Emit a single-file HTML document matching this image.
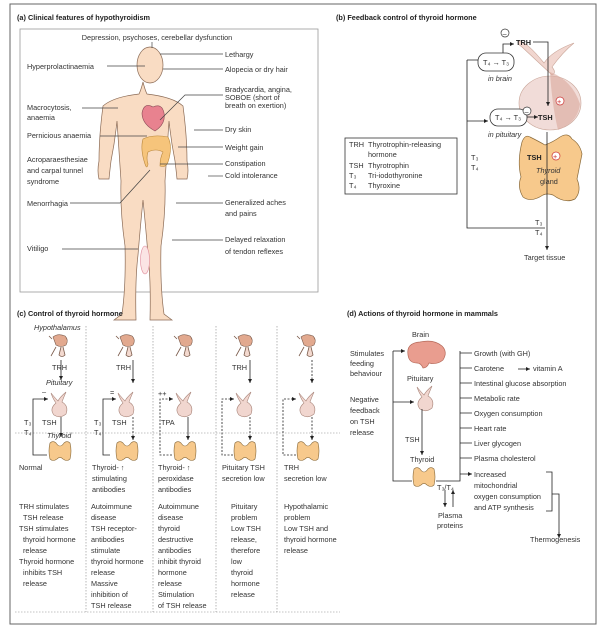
<!DOCTYPE html>
<html><head><meta charset="utf-8"><style>
html,body{margin:0;padding:0;background:#fff;width:600px;height:630px;overflow:hidden}
svg text{font-family:"Liberation Sans",sans-serif;font-size:7.3px;fill:#333}
.b{font-weight:bold;fill:#222}
.i{font-style:italic}
</style></head><body>
<svg width="600" height="630" viewBox="0 0 600 630" xmlns="http://www.w3.org/2000/svg">
<defs>
<marker id="a" markerWidth="6" markerHeight="6" refX="5" refY="3" orient="auto"><path d="M0,0.5 L5,3 L0,5.5z" fill="#222"/></marker>
<g id="hyp"><path d="M-7,-8 q5,-4 12,-1 q4,4 1,9 q-5,3 -10,0z" fill="#e2a98f" stroke="#7a5a4a" stroke-width=".6"/><path d="M-8,-6 l-3,-3 M-4,2 l-5,9 M1,2 l-2,8 q3,3 6,0 l-2,-8" fill="#f3d9cf" stroke="#7a5a4a" stroke-width=".8"/></g>
<g id="pit"><path d="M-9,-10 q4,5 7,8 q2,-4 8,-9 q-3,7 -4,10 q7,4 4,12 q-6,5 -12,1 q-5,-6 2,-12 q-3,-4 -5,-10z" fill="#f1d6cf" stroke="#a9857a" stroke-width=".6"/></g>
<g id="thy"><path d="M-10,-9 q3,-3 6,0 q2,3 4,3 q2,0 4,-3 q3,-3 6,0 q2,8 0,16 q-3,3 -7,0 q-3,-3 -6,0 q-4,3 -7,0 q-2,-8 0,-16z" fill="#f7c98c" stroke="#8a6a3a" stroke-width=".6"/></g>
</defs>
<rect x="10" y="4" width="586" height="620" fill="none" stroke="#666" stroke-width="1"/>

<!-- Panel a -->
<text x="17" y="20" class="b">(a)  Clinical features of hypothyroidism</text>
<rect x="20" y="29" width="298" height="263" fill="none" stroke="#999" stroke-width=".8"/>
<g fill="#f9dcc3" stroke="#8a6a55" stroke-width=".7">
<path d="M143,82 q-2,8 -4,12 q-26,3 -36,12 q-4,30 -4,55 q-2,10 0,18 l10,0 q1,-10 2,-18 q4,-20 6,-40 q2,30 4,60 q-1,30 4,65 q1,40 -3,68 l-8,6 l22,0 q-1,-40 2,-65 q2,-25 5,-55 q3,30 5,55 q3,25 2,65 l22,0 l-8,-6 q-4,-28 -3,-68 q5,-35 4,-65 q2,-30 4,-60 q2,20 6,40 q1,8 2,18 l10,0 q2,-8 0,-18 q0,-25 -4,-55 q-10,-9 -36,-12 q-2,-4 -4,-12z"/>
<ellipse cx="150" cy="65" rx="13" ry="18"/>
</g>
<path d="M153,107 q-9,-5 -11,6 q0,11 13,18 q11,-7 9,-18 q-2,-10 -11,-6z" fill="#e8828f" stroke="#8a4a55" stroke-width=".6"/>
<path d="M145,164 q-5,-15 -2,-25 q10,-5 25,-2 q5,10 0,25 q-2,6 -8,4 q0,-8 3,-14 q-7,-4 -15,0 q-2,6 0,12 q-1,6 -3,0z" fill="#f6c47b" stroke="#b9873a" stroke-width=".6"/>
<ellipse cx="145" cy="260" rx="4.5" ry="14" fill="#fbe4e4" stroke="#e08a9a" stroke-width=".6"/>
<g stroke="#444" stroke-width=".7" fill="none">
<line x1="152" y1="42" x2="152" y2="48"/><path d="M160,54 L223,54"/><path d="M163,69 L223,69"/>
<path d="M107,66 L145,66"/><path d="M160,120 L185,95 L223,95"/><path d="M82,108 L118,108"/>
<path d="M194,130 L223,130"/><path d="M100,136 L147,136"/><path d="M178,147 L223,147"/>
<path d="M160,164 L223,164"/><path d="M208,176 L223,176"/><path d="M70,203 L120,203 L150,170"/>
<path d="M176,203 L223,203"/><path d="M62,249 L138,249"/><path d="M172,240 L223,240"/>
</g>
<text x="157" y="40" text-anchor="middle">Depression, psychoses, cerebellar dysfunction</text>
<text x="225" y="57">Lethargy</text><text x="225" y="72">Alopecia or dry hair</text>
<text x="27" y="69">Hyperprolactinaemia</text>
<text x="225" y="92">Bradycardia, angina,</text><text x="225" y="100">SOBOE (short of</text><text x="225" y="108">breath on exertion)</text>
<text x="27" y="110">Macrocytosis,</text><text x="27" y="120">anaemia</text>
<text x="225" y="132">Dry skin</text><text x="27" y="138">Pernicious anaemia</text>
<text x="225" y="150">Weight gain</text>
<text x="27" y="162">Acroparaesthesiae</text><text x="27" y="173">and carpal tunnel</text><text x="27" y="184">syndrome</text>
<text x="225" y="166">Constipation</text><text x="225" y="178">Cold intolerance</text>
<text x="27" y="206">Menorrhagia</text>
<text x="225" y="205">Generalized aches</text><text x="225" y="216">and pains</text>
<text x="27" y="251">Vitiligo</text>
<text x="225" y="242">Delayed relaxation</text><text x="225" y="254">of tendon reflexes</text>

<!-- Panel b -->
<text x="336" y="20" class="b">(b)  Feedback control of thyroid hormone</text>
<path d="M522,47 q-6,-4 -3,-6 q8,1 25,22 q8,-12 30,-20 q-12,10 -22,24 q5,6 0,8z" fill="#f1d6cf" stroke="#c9a598" stroke-width=".6"/>
<ellipse cx="550" cy="103" rx="31" ry="27" fill="#f1dcd8" stroke="#c9a598" stroke-width=".6"/>
<path d="M550,72 q22,8 30,32 q-2,18 -22,26 q-6,-25 -8,-58z" fill="#dba89c" opacity=".6"/>
<path d="M522,142 q3,-8 8,-5 q10,5 15,8 q8,-3 15,-8 q8,-5 12,2 q8,5 10,15 q-3,15 -5,25 q5,12 -2,20 q-10,5 -22,-4 q-6,-2 -10,0 q-12,8 -20,2 q-6,-10 -2,-20 q-4,-15 1,-35z" fill="#f7c98c" stroke="#8a6a3a" stroke-width=".7"/>
<g stroke="#222" stroke-width=".8" fill="none">
<path d="M503,55 L503,44 L514,44" marker-end="url(#a)"/>
<path d="M533,42 L548,42 L548,106" marker-end="url(#a)"/>
<path d="M467,60 L478,60 M467,60 L467,228 L545,228"/>
<path d="M467,121 L488,121" marker-end="url(#a)"/>
<path d="M527,117 L538,117" marker-end="url(#a)"/>
<path d="M547,132 L547,250" marker-end="url(#a)"/>
</g>
<rect x="478" y="53" width="36" height="18" rx="8" fill="#fff" stroke="#333" stroke-width=".8"/>
<rect x="490" y="109" width="37" height="17" rx="8" fill="#fff" stroke="#333" stroke-width=".8"/>
<text x="483" y="65">T₄ → T₃</text><text x="495" y="120">T₄ → T₃</text>
<circle cx="505" cy="33" r="4" fill="#fff" stroke="#333" stroke-width=".7"/><text x="502.5" y="36" >–</text>
<circle cx="527" cy="111" r="4" fill="#fff" stroke="#333" stroke-width=".7"/><text x="524.5" y="114">–</text>
<circle cx="560" cy="101" r="4" fill="#fff" stroke="#c33" stroke-width=".7"/><text x="557" y="104" style="fill:#c33">+</text>
<circle cx="556" cy="156" r="4" fill="#fff" stroke="#c33" stroke-width=".7"/><text x="553" y="159" style="fill:#c33">+</text>
<text x="516" y="45" class="b">TRH</text><text x="538" y="120" class="b">TSH</text>
<text x="488" y="81" class="i">in brain</text><text x="488" y="137" class="i">in pituitary</text>
<text x="527" y="160" class="b">TSH</text><text x="536" y="173" class="i">Thyroid</text><text x="540" y="184">gland</text>
<text x="471" y="160">T₃</text><text x="471" y="170">T₄</text>
<text x="535" y="225">T₃</text><text x="535" y="235">T₄</text>
<text x="524" y="260">Target tissue</text>
<rect x="345" y="138" width="112" height="56" fill="#fff" stroke="#333" stroke-width=".8"/>
<text x="349" y="147">TRH</text><text x="368" y="147">Thyrotrophin-releasing</text><text x="368" y="157">hormone</text>
<text x="349" y="168">TSH</text><text x="368" y="168">Thyrotrophin</text>
<text x="349" y="178">T₃</text><text x="368" y="178">Tri-iodothyronine</text>
<text x="349" y="188">T₄</text><text x="368" y="188">Thyroxine</text>

<!-- Panel c -->
<text x="17" y="316" class="b">(c)  Control of thyroid hormone</text>
<text x="34" y="330" class="i">Hypothalamus</text>
<g stroke="#888" stroke-width=".6" stroke-dasharray="1.5,1.5" fill="none">
<path d="M86,326 V612 M153,326 V612 M216,326 V612 M277,326 V612"/>
<path d="M15,433 H340 M15,612 H340"/>
</g>
<use href="#hyp" x="60" y="345"/><use href="#hyp" x="127" y="345"/><use href="#hyp" x="185" y="345"/><use href="#hyp" x="245" y="345"/><use href="#hyp" x="308" y="345"/>
<use href="#pit" x="60" y="403"/><use href="#pit" x="127" y="403"/><use href="#pit" x="185" y="403"/><use href="#pit" x="245" y="403"/><use href="#pit" x="308" y="403"/>
<use href="#thy" x="60" y="452"/><use href="#thy" x="127" y="452"/><use href="#thy" x="185" y="452"/><use href="#thy" x="245" y="452"/><use href="#thy" x="308" y="452"/>
<g stroke="#222" stroke-width=".8" fill="none">
<path d="M61,360 V380" marker-end="url(#a)"/><path d="M61,417 V437" marker-end="url(#a)"/>
<path d="M47,455 H33 V399 H48" marker-end="url(#a)"/>
<path d="M133,360 V383" marker-end="url(#a)"/>
<path d="M110,455 H103 V399 H116" marker-end="url(#a)"/>
<path d="M188,417 V440" marker-end="url(#a)"/>
<path d="M250,360 V383" marker-end="url(#a)"/>
</g>
<g stroke="#222" stroke-width=".8" fill="none" stroke-dasharray="2,1.5">
<path d="M133,417 V440" marker-end="url(#a)"/>
<path d="M172,455 H160 V399 H173" marker-end="url(#a)"/>
<path d="M250,417 V440" marker-end="url(#a)"/>
<path d="M233,455 H222 V399 H234" marker-end="url(#a)"/>
<path d="M312,360 V383" marker-end="url(#a)"/><path d="M312,417 V440" marker-end="url(#a)"/>
<path d="M296,455 H283 V399 H296" marker-end="url(#a)"/>
</g>
<text x="52" y="370">TRH</text><text x="46" y="385" class="i">Pituitary</text><text x="42" y="394">–</text>
<text x="24" y="425">T₃</text><text x="24" y="435">T₄</text><text x="42" y="425">TSH</text><text x="47" y="438" class="i">Thyroid</text>
<text x="19" y="470">Normal</text>
<text x="116" y="370">TRH</text><text x="110" y="395">=</text><text x="94" y="425">T₃</text><text x="94" y="435">T₄</text><text x="112" y="425">TSH</text>
<text x="92" y="470">Thyroid- ↑</text><text x="92" y="481">stimulating</text><text x="92" y="492">antibodies</text>
<text x="158" y="396">++</text><text x="161" y="425">TPA</text>
<text x="158" y="470">Thyroid- ↑</text><text x="158" y="481">peroxidase</text><text x="158" y="492">antibodies</text>
<text x="232" y="370">TRH</text>
<text x="222" y="470">Pituitary TSH</text><text x="222" y="481">secretion low</text>
<text x="284" y="470">TRH</text><text x="284" y="481">secretion low</text>
<g>
<text x="19" y="509">TRH stimulates</text><text x="23" y="520">TSH release</text><text x="19" y="531">TSH stimulates</text><text x="23" y="542">thyroid hormone</text><text x="23" y="553">release</text><text x="19" y="564">Thyroid hormone</text><text x="23" y="575">inhibits TSH</text><text x="23" y="586">release</text>
<text x="91" y="509">Autoimmune</text><text x="91" y="520">disease</text><text x="91" y="531">TSH receptor-</text><text x="91" y="542">antibodies</text><text x="91" y="553">stimulate</text><text x="91" y="564">thyroid hormone</text><text x="91" y="575">release</text><text x="91" y="586">Massive</text><text x="91" y="597">inhibition of</text><text x="91" y="608">TSH release</text>
<text x="158" y="509">Autoimmune</text><text x="158" y="520">disease</text><text x="158" y="531">thyroid</text><text x="158" y="542">destructive</text><text x="158" y="553">antibodies</text><text x="158" y="564">inhibit thyroid</text><text x="158" y="575">hormone</text><text x="158" y="586">release</text><text x="158" y="597">Stimulation</text><text x="158" y="608">of TSH release</text>
<text x="231" y="509">Pituitary</text><text x="231" y="520">problem</text><text x="231" y="531">Low TSH</text><text x="231" y="542">release,</text><text x="231" y="553">therefore</text><text x="231" y="564">low</text><text x="231" y="575">thyroid</text><text x="231" y="586">hormone</text><text x="231" y="597">release</text>
<text x="284" y="509">Hypothalamic</text><text x="284" y="520">problem</text><text x="284" y="531">Low TSH and</text><text x="284" y="542">thyroid hormone</text><text x="284" y="553">release</text>
</g>

<!-- Panel d -->
<text x="347" y="316" class="b">(d)  Actions of thyroid hormone in mammals</text>
<text x="412" y="337">Brain</text>
<path d="M408,355 q-2,-12 12,-13 q14,-3 22,4 q6,6 1,14 q-6,5 -14,3 q-2,5 -6,5 q-2,-5 -6,-5 q-8,0 -9,-8z" fill="#e99d8f" stroke="#b66a5a" stroke-width=".7"/>
<text x="407" y="381">Pituitary</text>
<use href="#pit" x="426" y="397"/>
<text x="405" y="442">TSH</text><text x="410" y="462">Thyroid</text>
<use href="#thy" x="424" y="478"/>
<g stroke="#222" stroke-width=".8" fill="none">
<path d="M393,351 H405" marker-end="url(#a)"/>
<path d="M393,402 H414" marker-end="url(#a)"/>
<path d="M393,351 V481 H412"/>
<path d="M422,409 V455" marker-end="url(#a)"/>
<path d="M436,481 H460 V351"/>
<path d="M445,490 V507" marker-end="url(#a)"/><path d="M453,507 V490" marker-end="url(#a)"/>
<path d="M460,353 H472 M460,368 H472 M460,383 H472 M460,398 H472 M460,413 H472 M460,428 H472 M460,443 H472 M460,458 H472 M460,474 H472" marker-end="url(#a)"/>
<path d="M518,369 H530" marker-end="url(#a)"/>
<path d="M546,472 H552 V511 H546 M552,494 H559 V537" />
<path d="M559,532 V538" marker-end="url(#a)"/>
</g>
<text x="350" y="356">Stimulates</text><text x="350" y="366">feeding</text><text x="350" y="376">behaviour</text>
<text x="350" y="402">Negative</text><text x="350" y="413">feedback</text><text x="350" y="424">on TSH</text><text x="350" y="435">release</text>
<text x="474" y="356">Growth (with GH)</text>
<text x="474" y="371">Carotene</text><text x="533" y="371">vitamin A</text>
<text x="474" y="386">Intestinal glucose absorption</text>
<text x="474" y="401">Metabolic rate</text>
<text x="474" y="416">Oxygen consumption</text>
<text x="474" y="431">Heart rate</text>
<text x="474" y="446">Liver glycogen</text>
<text x="474" y="461">Plasma cholesterol</text>
<text x="474" y="477">Increased</text><text x="474" y="488">mitochondrial</text><text x="474" y="499">oxygen consumption</text><text x="474" y="510">and ATP synthesis</text>
<text x="530" y="542">Thermogenesis</text>
<text x="437" y="490">T₃/T₄</text>
<text x="438" y="518">Plasma</text><text x="437" y="528">proteins</text>
</svg>
</body></html>
